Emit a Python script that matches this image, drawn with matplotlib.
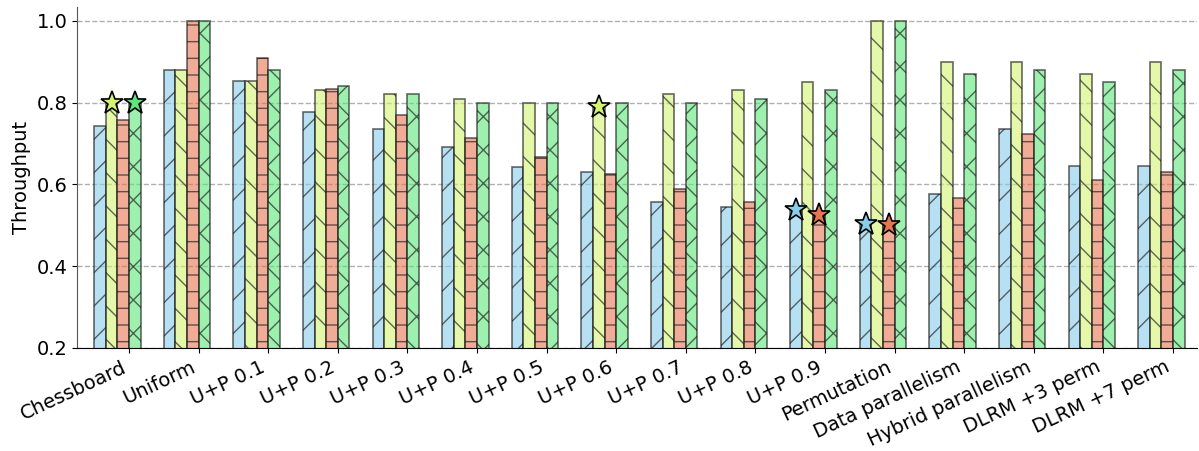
import matplotlib
matplotlib.use('Agg')
import matplotlib.pyplot as plt
import numpy as np

categories = ['Chessboard', 'Uniform', 'U+P 0.1', 'U+P 0.2', 'U+P 0.3', 'U+P 0.4',
              'U+P 0.5', 'U+P 0.6', 'U+P 0.7', 'U+P 0.8', 'U+P 0.9', 'Permutation',
              'Data parallelism', 'Hybrid parallelism', 'DLRM +3 perm', 'DLRM +7 perm']

blue_vals = [0.744, 0.881, 0.854, 0.778, 0.736, 0.692, 0.642, 0.631,
             0.558, 0.545, 0.538, 0.502, 0.577, 0.735, 0.646, 0.645]
yellow_vals = [0.800, 0.881, 0.854, 0.830, 0.820, 0.809, 0.800, 0.790,
               0.820, 0.830, 0.850, 1.000, 0.900, 0.900, 0.871, 0.900]
red_vals = [0.757, 1.000, 0.908, 0.833, 0.769, 0.714, 0.667, 0.625,
            0.588, 0.556, 0.526, 0.500, 0.566, 0.724, 0.611, 0.631]
green_vals = [0.800, 1.000, 0.880, 0.840, 0.820, 0.800, 0.800, 0.800,
              0.800, 0.810, 0.830, 1.000, 0.871, 0.880, 0.850, 0.880]

# (series index, category index) of the bars marked with a star
star_marks = [(1, 0), (3, 0), (1, 7), (0, 10), (2, 10), (0, 11), (2, 11)]

series = [blue_vals, yellow_vals, red_vals, green_vals]
colors = ['#87CEEB', '#D5F271', '#E67550', '#5DE67B']
hatches = ['/', '\\', '-', 'x']

fig, ax = plt.subplots(figsize=(11.99, 4.51), dpi=100)
fig.subplots_adjust(left=0.0642, right=0.9983, bottom=0.2288, top=0.9845)

x = np.arange(len(categories))
width = 1.0 / 6

for i, (vals, col, hat) in enumerate(zip(series, colors, hatches)):
    face = matplotlib.colors.to_rgba(col, 0.6)
    ax.bar(x + (i - 2.5) * width, vals, width, color=face, hatch=hat,
           edgecolor=(0.1, 0.1, 0.1, 0.65), linewidth=1.2, zorder=2)

for s, c in star_marks:
    ax.plot(x[c] + (s - 2.5) * width, series[s][c], marker='*', markersize=17,
            color=colors[s], markeredgecolor='black', markeredgewidth=1.2,
            linestyle='none', zorder=4)

ax.set_xlim(-0.747, 15.345)
ax.set_ylim(0.2, 1.034)
ax.set_yticks([0.2, 0.4, 0.6, 0.8, 1.0])
ax.set_xticks(x)
ax.set_xticklabels(categories, rotation=25, ha='right', fontsize=14)
ax.tick_params(axis='y', labelsize=14)
ax.set_ylabel('Throughput', fontsize=14)
ax.yaxis.grid(True, linestyle='--', color='#b0b0b0', linewidth=1.0, zorder=0)
ax.set_axisbelow(True)
ax.spines['top'].set_visible(False)
ax.spines['right'].set_visible(False)
ax.spines['left'].set_color('#555555')

fig.savefig('out.png', dpi=100)
